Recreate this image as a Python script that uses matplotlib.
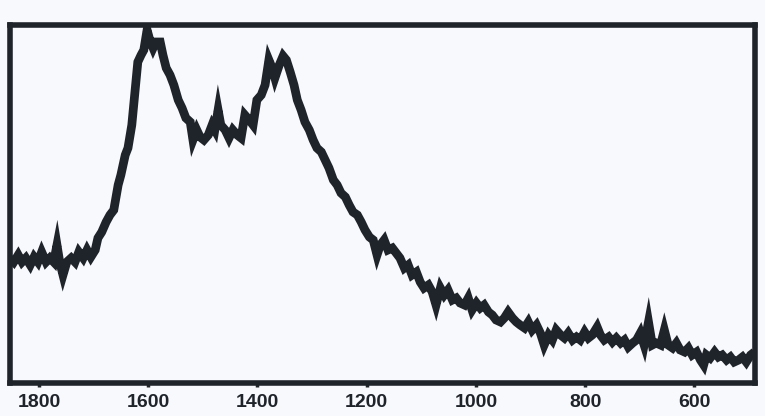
import matplotlib
matplotlib.use("Agg")
import matplotlib.pyplot as plt

# Raman shift (cm^-1) and intensity (a.u.)
wavenumber = [
    1853, 1846, 1838, 1831, 1824, 1816, 1809, 1802, 1795, 1787,
    1780, 1773, 1767, 1762, 1756, 1749, 1741, 1734, 1727, 1719,
    1712, 1705, 1697, 1692, 1685, 1677, 1670, 1663, 1655, 1650,
    1642, 1637, 1630, 1624, 1619, 1613, 1608, 1602, 1597, 1591,
    1586, 1578, 1573, 1567, 1560, 1553, 1545, 1538, 1531, 1523,
    1518, 1511, 1505, 1498, 1490, 1483, 1478, 1472, 1467, 1459,
    1452, 1445, 1437, 1430, 1423, 1415, 1408, 1401, 1393, 1386,
    1379, 1373, 1368, 1360, 1353, 1347, 1340, 1333, 1327, 1320,
    1313, 1305, 1298, 1291, 1283, 1276, 1269, 1261, 1254, 1247,
    1239, 1232, 1225, 1217, 1210, 1203, 1195, 1188, 1181, 1175,
    1168, 1161, 1153, 1146, 1139, 1131, 1124, 1117, 1109, 1102,
    1095, 1087, 1080, 1073, 1065, 1058, 1051, 1043, 1036, 1029,
    1021, 1014, 1007, 999, 992, 985, 977, 970, 963, 955,
    948, 941, 933, 926, 919, 911, 904, 897, 889, 882,
    875, 867, 860, 853, 845, 838, 831, 823, 816, 809,
    801, 794, 787, 778, 772, 765, 757, 750, 743, 735,
    728, 721, 713, 706, 699, 692, 684, 677, 670, 662,
    655, 648, 640, 633, 626, 618, 611, 604, 596, 589,
    583, 578, 571, 563, 556, 549, 541, 534, 527, 519,
    512, 505, 497, 490,
]
intensity = [
    125, 121, 128, 121, 125, 118, 126, 121, 131, 121,
    125, 121, 138, 121, 108, 121, 125, 121, 131, 125,
    133, 126, 133, 145, 151, 161, 168, 173, 198, 208,
    228, 235, 258, 293, 321, 328, 333, 353, 343, 335,
    341, 341, 328, 315, 308, 298, 283, 275, 265, 261,
    243, 253, 246, 243, 248, 258, 253, 273, 258, 253,
    245, 253, 248, 245, 268, 263, 258, 283, 288, 298,
    323, 315, 305, 318, 327, 323, 311, 298, 283, 273,
    261, 253, 243, 235, 231, 223, 215, 203, 198, 190,
    186, 178, 171, 168, 161, 153, 146, 143, 128, 138,
    143, 133, 135, 130, 125, 115, 118, 108, 111, 101,
    95, 98, 91, 78, 95, 88, 93, 83, 85, 80,
    78, 85, 73, 80, 75, 78, 71, 68, 63, 61,
    65, 71, 65, 61, 58, 55, 61, 53, 58, 50,
    38, 48, 43, 53, 48, 45, 50, 43, 46, 43,
    51, 45, 48, 56, 48, 43, 46, 41, 45, 40,
    43, 36, 40, 43, 50, 38, 61, 38, 40, 38,
    53, 38, 35, 40, 33, 31, 35, 28, 31, 23,
    18, 28, 25, 31, 26, 28, 23, 26, 21, 23,
    26, 21, 28, 31,
]
tick_values = [1800, 1600, 1400, 1200, 1000, 800, 600]
tick_labels = ["1800", "1600", "1400", "1200", "1000", "800", "600"]

ink = "#1f232a"
paper = "#f7f9fc"

fig = plt.figure(figsize=(7.65, 4.16), dpi=100, facecolor=paper)
ax = fig.add_axes([10 / 765, 1 - 383 / 416, 745 / 765, 358 / 416])
ax.set_facecolor(paper)

ax.plot(wavenumber, intensity, color=ink, lw=6.3, solid_joinstyle="miter",
        solid_capstyle="butt")

ax.set_xlim(1853, 489)
ax.set_ylim(0, 358)
ax.set_xticks(tick_values)
ax.set_xticklabels(tick_labels)
ax.set_yticks([])

for s in ax.spines.values():
    s.set_linewidth(4.0)
    s.set_color(ink)

ax.tick_params(axis="x", direction="out", length=3, width=2.5, color=ink,
               pad=5, labelsize=14, labelcolor=ink)
for lbl in ax.get_xticklabels():
    lbl.set_fontfamily("Liberation Sans")
    lbl.set_fontweight("bold")

fig.savefig("out.png", dpi=100, facecolor=paper)
